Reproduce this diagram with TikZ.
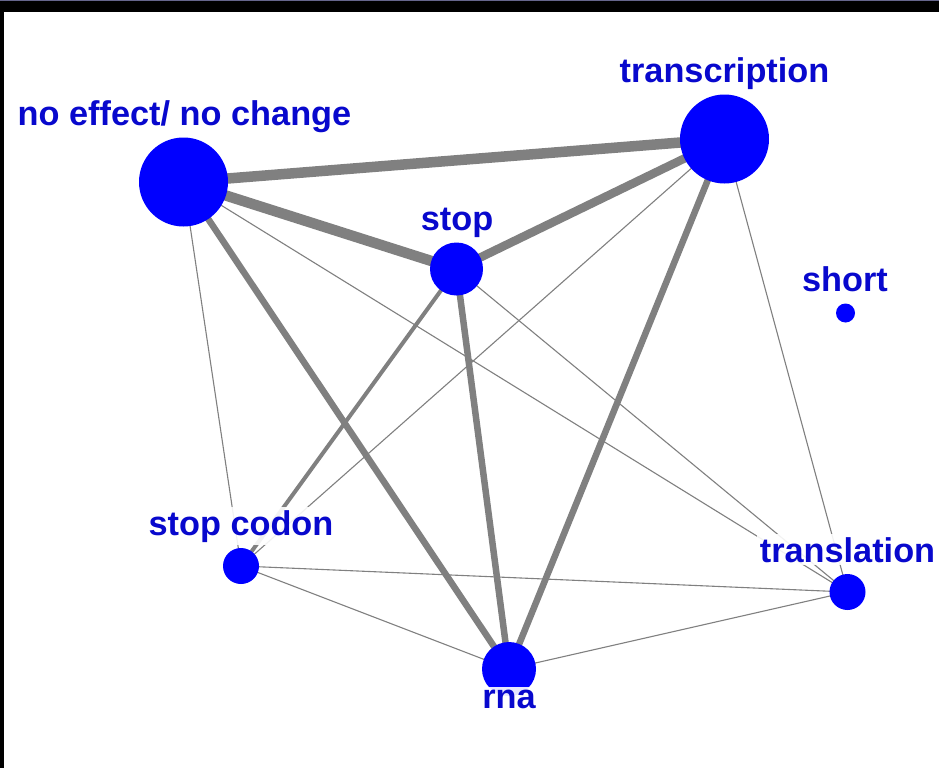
\documentclass[tikz,border=0pt]{standalone}
\usepackage{fontspec}
\setmainfont{Liberation Sans}
\begin{document}
\definecolor{edgegray}{RGB}{128,128,128}
\definecolor{nodeblue}{RGB}{0,0,255}
\definecolor{labelblue}{RGB}{8,8,205}
\begin{tikzpicture}[x=1pt,y=-1pt,
  vert/.style={circle,fill=nodeblue,draw=none,inner sep=0pt},
  lab/.style={anchor=base,text=labelblue,font=\fontsize{34.3}{40}\selectfont\bfseries,
    fill=white,fill opacity=0.9,text opacity=1,inner sep=3pt},
  thin edge/.style={draw=edgegray,line width=1.1pt},
  mid edge/.style={draw=edgegray,line width=4pt},
  med edge/.style={draw=edgegray,line width=6.5pt},
  thick edge/.style={draw=edgegray,line width=8.5pt},
  heavy edge/.style={draw=edgegray,line width=10.5pt}]
\useasboundingbox (0,0) rectangle (939,768);
\fill[white] (0,0) rectangle (939,768);
% frame
\fill[black] (0,0) rectangle (939,12.3);
\fill[black] (0,0) rectangle (4.4,768);
\fill[black!75!blue!60] (0,0) rectangle (939,1.2);
% vertex positions
\coordinate (cNE) at (183.5,182);
\coordinate (cTR) at (724.5,139);
\coordinate (cST) at (456.5,269);
\coordinate (cSH) at (845.5,313);
\coordinate (cSC) at (241,566);
\coordinate (cTL) at (847.5,592);
\coordinate (cRN) at (509,669);
% edges
\draw[thin edge] (cNE) -- (cSC);
\draw[thin edge] (cNE) -- (cTL);
\draw[thin edge] (cST) -- (cTL);
\draw[thin edge] (cTR) -- (cSC);
\draw[thin edge] (cTR) -- (cTL);
\draw[thin edge] (cSC) -- (cTL);
\draw[thin edge] (cSC) -- (cRN);
\draw[thin edge] (cRN) -- (cTL);
\draw[mid edge] (cST) -- (cSC);
\draw[med edge] (cNE) -- (cRN);
\draw[med edge] (cST) -- (cRN);
\draw[med edge] (cTR) -- (cRN);
\draw[thick edge] (cST) -- (cTR);
\draw[heavy edge] (cNE) -- (cST);
\draw[heavy edge] (cNE) -- (cTR);
% vertices
\node[vert,minimum size=89pt] (ne) at (cNE) {};
\node[vert,minimum size=89pt] (tr) at (cTR) {};
\node[vert,minimum size=53pt] (st) at (cST) {};
\node[vert,minimum size=19pt] (sh) at (cSH) {};
\node[vert,minimum size=36pt] (sc) at (cSC) {};
\node[vert,minimum size=36pt] (tl) at (cTL) {};
\node[vert,minimum size=54pt] (rn) at (cRN) {};
% labels
\node[lab] (lne) at (184.5,125) {no effect/ no change};
\node[lab] (ltr) at (724.5,82) {transcription};
\node[lab] (lst) at (457,230) {stop};
\node[lab] (lsh) at (845,291.5) {short};
\node[lab] (lsc) at (241,535) {stop codon};
\node[lab] (ltl) at (847.5,562) {translation};
\node[lab] (lrn) at (509,708) {rna};
\end{tikzpicture}
\end{document}
